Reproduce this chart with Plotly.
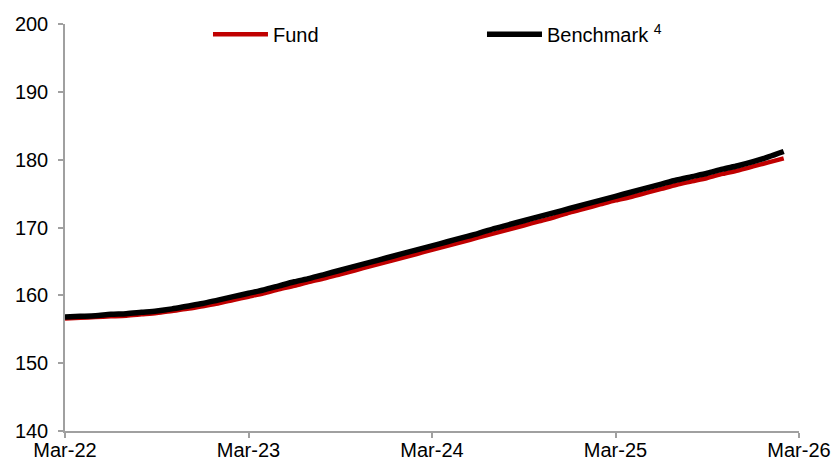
import plotly.graph_objects as go

months = list(range(48))
tick_vals = [0, 12, 24, 36, 48]
tick_text = ["Mar-22", "Mar-23", "Mar-24", "Mar-25", "Mar-26"]

benchmark = [156.8, 156.9, 157.0, 157.2, 157.3, 157.5, 157.7, 158.0, 158.4, 158.8, 159.3, 159.8,
             160.3, 160.8, 161.4, 162.0, 162.5, 163.1, 163.7, 164.3, 164.9, 165.5, 166.1, 166.7,
             167.3, 167.9, 168.5, 169.1, 169.8, 170.4, 171.0, 171.6, 172.2, 172.8, 173.4, 174.0,
             174.6, 175.2, 175.8, 176.4, 177.0, 177.5, 178.0, 178.6, 179.1, 179.7, 180.4, 181.2]
fund = [156.6, 156.7, 156.8, 156.9, 157.0, 157.2, 157.4, 157.7, 158.0, 158.4, 158.8, 159.3,
        159.8, 160.3, 160.9, 161.4, 162.0, 162.5, 163.1, 163.7, 164.3, 164.9, 165.5, 166.1,
        166.7, 167.3, 167.9, 168.5, 169.1, 169.7, 170.3, 170.9, 171.5, 172.2, 172.8, 173.4,
        174.0, 174.5, 175.1, 175.7, 176.3, 176.8, 177.3, 177.9, 178.4, 179.0, 179.6, 180.2]

font = "Liberation Sans, Arial, sans-serif"

fig = go.Figure()
fig.add_trace(go.Scatter(x=months, y=fund, mode="lines", name="Fund",
                         line=dict(color="#c00000", width=4.5, shape="spline", smoothing=0.8)))
fig.add_trace(go.Scatter(x=months, y=benchmark, mode="lines", name="Benchmark <sup>4</sup>",
                         line=dict(color="#000000", width=5.5, shape="spline", smoothing=0.8)))

axis_common = dict(showgrid=False, zeroline=False, showline=True, linecolor="#a0a0a0",
                   linewidth=1.5, ticks="outside", ticklen=5, tickcolor="#a0a0a0",
                   tickwidth=1.5, automargin=False, ticklabeloverflow="allow",
                   tickfont=dict(family=font, size=20, color="black"))

fig.update_layout(
    width=832, height=464,
    margin=dict(l=65, r=33, t=24, b=33),
    paper_bgcolor="white", plot_bgcolor="white",
    font=dict(family=font, size=20, color="black"),
    showlegend=True,
    legend=dict(orientation="h", x=0.1948, y=0.975, xanchor="left", yanchor="middle",
                bgcolor="rgba(0,0,0,0)", entrywidth=204, entrywidthmode="pixels",
                itemwidth=55,
                font=dict(family=font, size=20, color="black")),
    xaxis=dict(range=[0, 48], tickvals=tick_vals, ticktext=tick_text,
               ticklabelstandoff=-5, **axis_common),
    yaxis=dict(range=[140, 200], tickvals=[140, 150, 160, 170, 180, 190, 200],
               ticklabelstandoff=6, **axis_common),
)

fig.write_html("out.html", config={"displayModeBar": False},
               post_script="document.body.style.margin='0';document.body.style.overflow='hidden';")
